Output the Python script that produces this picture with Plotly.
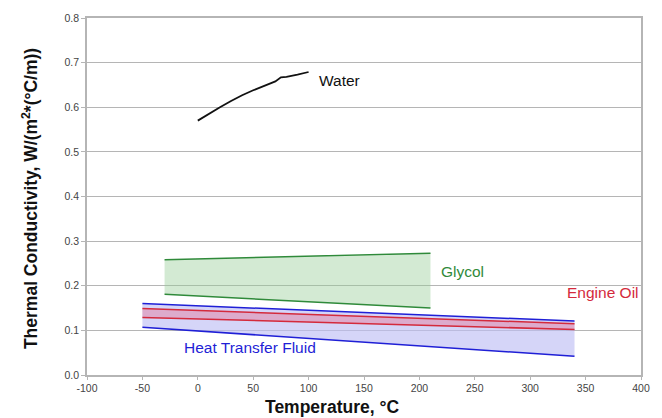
import plotly.graph_objects as go

water_t = [0, 10, 20, 30, 40, 50, 60, 70, 75, 80, 90, 100]
water_k = [0.570, 0.586, 0.600, 0.614, 0.627, 0.638, 0.648, 0.658, 0.667, 0.668, 0.673, 0.679]

glycol_t = [-30, 210]
glycol_hi = [0.258, 0.273]
glycol_lo = [0.181, 0.150]

htf_t = [-50, 340]
htf_hi = [0.160, 0.121]
htf_lo = [0.107, 0.042]

oil_t = [-50, 340]
oil_hi = [0.149, 0.115]
oil_lo = [0.129, 0.102]

x_ticks = list(range(-100, 401, 50))
x_tick_text = [str(v) for v in x_ticks]
y_ticks = [0.0, 0.1, 0.2, 0.3, 0.4, 0.5, 0.6, 0.7, 0.8]
y_tick_text = [f"{v:.1f}" for v in y_ticks]

green = "#2f8a3a"
blue = "#1f1fd6"
red = "#d42a3c"
FAM = "Liberation Sans, Arial, sans-serif"

fig = go.Figure()
fig.add_trace(go.Scatter(x=glycol_t, y=glycol_lo, mode="lines", line=dict(color=green, width=1.5), showlegend=False))
fig.add_trace(go.Scatter(x=glycol_t, y=glycol_hi, mode="lines", line=dict(color=green, width=1.5),
                         fill="tonexty", fillcolor="rgba(150,205,150,0.42)", showlegend=False))
fig.add_trace(go.Scatter(x=htf_t, y=htf_lo, mode="lines", line=dict(color=blue, width=1.5), showlegend=False))
fig.add_trace(go.Scatter(x=htf_t, y=htf_hi, mode="lines", line=dict(color=blue, width=1.5),
                         fill="tonexty", fillcolor="rgba(190,190,245,0.65)", showlegend=False))
fig.add_trace(go.Scatter(x=oil_t, y=oil_lo, mode="lines", line=dict(color=red, width=1.5), showlegend=False))
fig.add_trace(go.Scatter(x=oil_t, y=oil_hi, mode="lines", line=dict(color=red, width=1.5),
                         fill="tonexty", fillcolor="rgba(230,120,150,0.45)", showlegend=False))
fig.add_trace(go.Scatter(x=water_t, y=water_k, mode="lines", line=dict(color="#111111", width=1.8), showlegend=False))

lab_size = 15.5
fig.add_annotation(x=108, y=0.661, text="Water", showarrow=False, xanchor="left", font=dict(family=FAM, size=lab_size, color="#111111"))
fig.add_annotation(x=218, y=0.232, text="Glycol", showarrow=False, xanchor="left", font=dict(family=FAM, size=lab_size, color=green))
fig.add_annotation(x=331, y=0.185, text="Engine Oil", showarrow=False, xanchor="left", font=dict(family=FAM, size=lab_size, color=red))
fig.add_annotation(x=-14, y=0.062, text="Heat Transfer Fluid", showarrow=False, xanchor="left", font=dict(family=FAM, size=lab_size, color=blue))

title_font = dict(family=FAM, size=17.5, color="#111111")
plot_w = 662 - 87 - 20
plot_h = 418 - 16 - 43
fig.add_annotation(x=(332 - 87) / plot_w, y=-(407 - 375) / plot_h, xref="paper", yref="paper",
                   text="<b>Temperature, °C</b>", showarrow=False, yanchor="middle", font=title_font)
fig.add_annotation(x=-(87 - 30) / plot_w, y=(375 - 198) / plot_h, xref="paper", yref="paper", textangle=-90,
                   text="<b>Thermal Conductivity, W/(m<sup>2</sup>*(°C/m))</b>", showarrow=False,
                   xanchor="center", yanchor="middle", font=title_font)

fig.update_layout(
    width=662, height=418,
    margin=dict(l=87, r=20, t=16, b=43),
    paper_bgcolor="white", plot_bgcolor="white",
    font=dict(family=FAM, size=10.5, color="#444444"),
    xaxis=dict(range=[-100, 400], tickvals=x_ticks, ticktext=x_tick_text, showgrid=False, showline=True,
               linecolor="#b5b5b5", linewidth=1.5, mirror=True, ticks="outside", ticklen=3,
               tickcolor="#b5b5b5", zeroline=False),
    yaxis=dict(range=[0, 0.8], tickvals=y_ticks, ticktext=y_tick_text, showgrid=True, gridcolor="#b5b5b5",
               gridwidth=1, showline=True, linecolor="#b5b5b5", linewidth=1.5, mirror=True,
               ticks="outside", ticklen=4, tickcolor="#b5b5b5", zeroline=False),
)
fig.write_html("out.html")
